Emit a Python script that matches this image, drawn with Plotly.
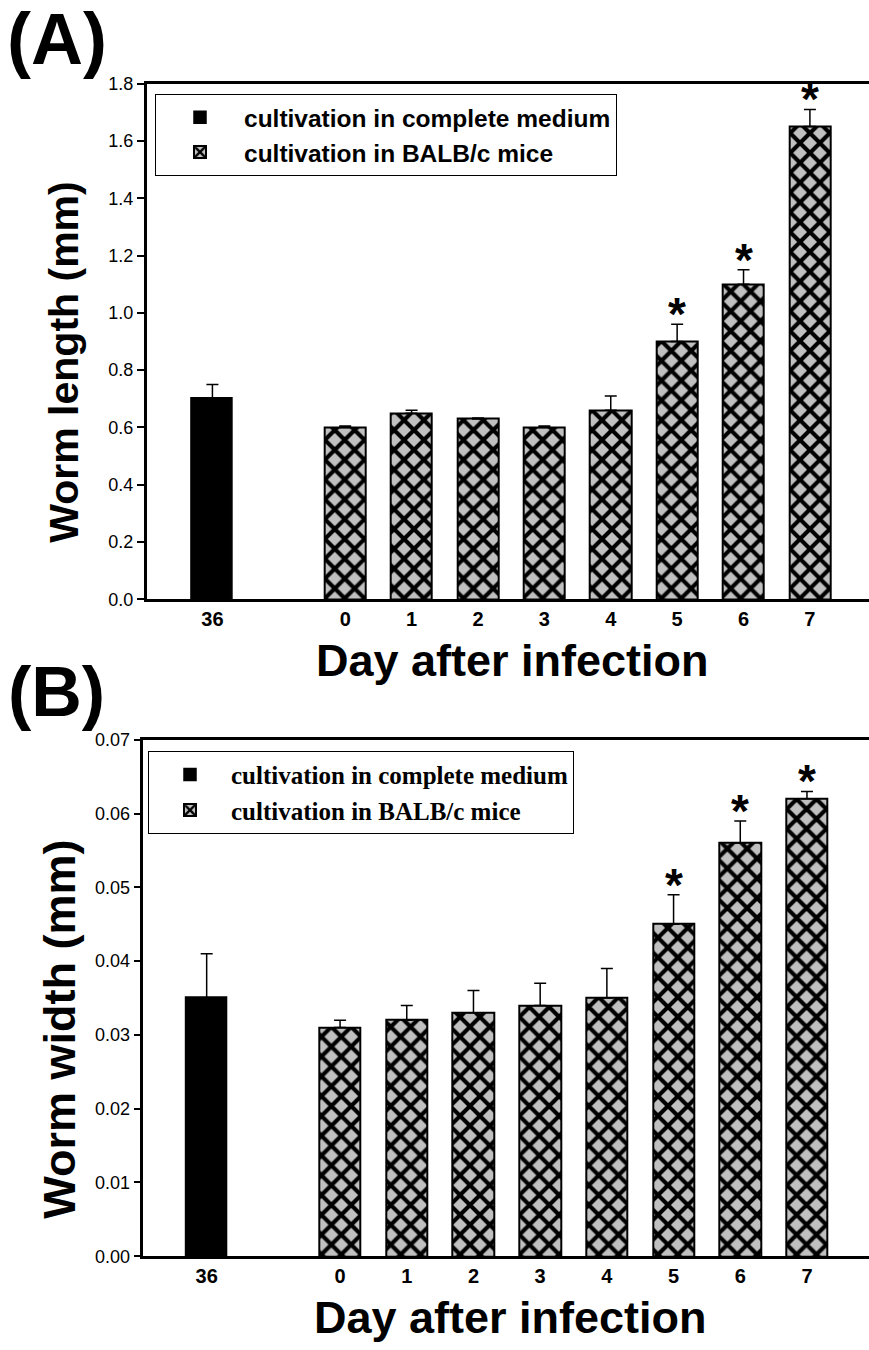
import plotly.graph_objects as go

# ---------------- data ----------------
medium_label = ["36"]
mice_days = ["0", "1", "2", "3", "4", "5", "6", "7"]

length_medium = [0.70]
length_medium_err = [0.05]
length_mice = [0.60, 0.65, 0.63, 0.60, 0.66, 0.90, 1.10, 1.65]
length_mice_err = [0.005, 0.01, 0.003, 0.005, 0.05, 0.06, 0.05, 0.06]

width_medium = [0.035]
width_medium_err = [0.006]
width_mice = [0.031, 0.032, 0.033, 0.034, 0.035, 0.045, 0.056, 0.062]
width_mice_err = [0.001, 0.002, 0.003, 0.003, 0.004, 0.004, 0.003, 0.001]

significant = [False, False, False, False, False, True, True, True]

legend_names = ["cultivation in complete medium", "cultivation in BALB/c mice"]

# ---------------- layout helpers ----------------
W, H = 869, 1350
mice_x = list(range(len(mice_days)))
medium_x = [-2]
BAR_W = 0.62

def px_x(p):
    return p / W

def px_y(p):
    return (H - p) / H

SANS = "Liberation Sans, Arial, sans-serif"
SERIF = "Liberation Serif, Times New Roman, serif"

fig = go.Figure()

def add_panel(xa, ya, vals_med, err_med, vals_mice, err_mice, legend):
    fig.add_trace(go.Bar(
        x=medium_x, y=vals_med, width=BAR_W, name=legend_names[0],
        marker=dict(color="black", line=dict(color="black", width=1.5)),
        error_y=dict(type="data", array=err_med, arrayminus=[0] * len(err_med),
                     symmetric=False, color="black", thickness=1.5, width=6),
        xaxis=xa, yaxis=ya, legend=legend,
    ))
    fig.add_trace(go.Bar(
        x=mice_x, y=vals_mice, width=BAR_W, name=legend_names[1],
        marker=dict(color="#c0c0c0", line=dict(color="black", width=2),
                    pattern=dict(shape="x", fgcolor="black", bgcolor="#c0c0c0",
                                 fgopacity=1, size=14, solidity=0.5)),
        error_y=dict(type="data", array=err_mice, arrayminus=[0] * len(err_mice),
                     symmetric=False, color="black", thickness=1.5, width=6),
        xaxis=xa, yaxis=ya, legend=legend,
    ))
    for xi, v, e, s in zip(mice_x, vals_mice, err_mice, significant):
        if s:
            fig.add_annotation(x=xi, y=v + e, xref=xa, yref=ya, text="<b>*</b>",
                               showarrow=False, xanchor="center", yanchor="bottom",
                               yshift=-18,
                               font=dict(family=SANS, size=46, color="black"))

add_panel("x", "y", length_medium, length_medium_err, length_mice, length_mice_err, "legend")
add_panel("x2", "y2", width_medium, width_medium_err, width_mice, width_mice_err, "legend2")

tickvals = medium_x + mice_x
ticktext = medium_label + mice_days

xcommon = dict(tickvals=tickvals, ticktext=ticktext, showgrid=False, zeroline=False,
               showline=True, linecolor="black", linewidth=2.5, mirror=True,
               ticks="", tickfont=dict(family=SANS, size=20, color="black", weight="bold"))
ycommon = dict(showgrid=False, zeroline=False, showline=True, linecolor="black",
               linewidth=2.5, ticks="outside", ticklen=7, tickwidth=1.5,
               tickcolor="black", tickfont=dict(family=SANS, size=18, color="black"))

fig.update_layout(
    width=W, height=H, margin=dict(l=0, r=0, t=0, b=0),
    paper_bgcolor="white", plot_bgcolor="white",
    barmode="overlay", bargap=0,
    xaxis=dict(domain=[px_x(146.7), 1.0], range=[-2.99, 7.89], anchor="y", **xcommon),
    yaxis=dict(domain=[px_y(598.3), px_y(74.7)], range=[0, 1.8], dtick=0.2,
               tickformat=".1f", anchor="x", **ycommon),
    xaxis2=dict(domain=[px_x(143.3), 1.0], range=[-2.95, 7.93], anchor="y2", **xcommon),
    yaxis2=dict(domain=[px_y(1265), px_y(740.7)], range=[0, 0.07], dtick=0.01,
                tickformat=".2f", anchor="x2", **ycommon),
    legend=dict(x=px_x(155), y=px_y(85), xanchor="left", yanchor="top",
                bordercolor="black", borderwidth=1, bgcolor="white",
                itemwidth=78, tracegroupgap=0,
                font=dict(family=SANS, size=24.5, color="black", weight="bold")),
    legend2=dict(x=px_x(148), y=px_y(752), xanchor="left", yanchor="top",
                 bordercolor="black", borderwidth=1, bgcolor="white",
                 itemwidth=72, tracegroupgap=0,
                 font=dict(family=SERIF, size=25, color="black", weight="bold")),
    showlegend=True,
)

def label(text, x, y, size, angle=0, xanchor="center", yanchor="middle"):
    fig.add_annotation(text=text, xref="paper", yref="paper", x=px_x(x), y=px_y(y),
                       xanchor=xanchor, yanchor=yanchor, showarrow=False,
                       textangle=angle, font=dict(family=SANS, size=size, color="black"))

label("<b>Day after infection</b>", 512, 660, 45)
label("<b>Day after infection</b>", 510, 1327, 45)
label("<b>Worm length (mm)</b>", 64, 358, 41, angle=-90)
label("<b>Worm width (mm)</b>", 60, 1035, 45, angle=-90)
label("<b>(A)</b>", 57, 29, 72)
label("<b>(B)</b>", 56, 692, 70)

fig.write_html("out.html")
